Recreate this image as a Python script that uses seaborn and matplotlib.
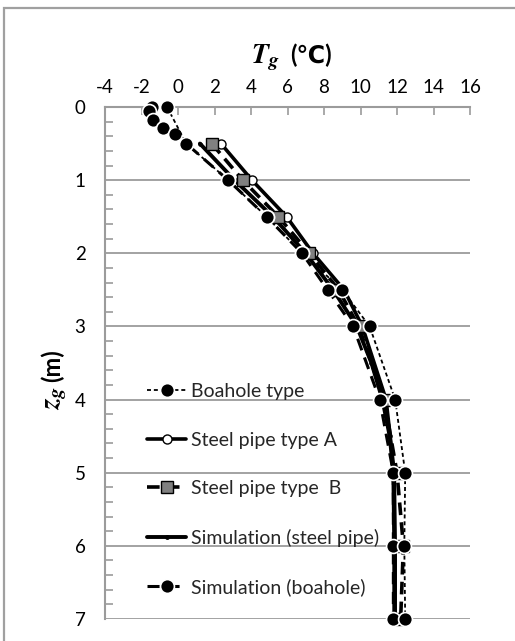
import matplotlib
matplotlib.use("Agg")
import matplotlib.pyplot as plt
from matplotlib.lines import Line2D
from matplotlib.patches import Rectangle
from matplotlib.ticker import MultipleLocator
import pandas as pd
import seaborn as sns

# Ground temperature profiles (T in degC, depth z in m)
bore_z = [0, 0.5, 1.0, 1.5, 2.0, 2.5, 3.0, 4.0, 5.0, 6.0, 7.0]
bore_T = [-0.6, 0.45, 2.75, 4.85, 6.8, 9.0, 10.5, 11.9, 12.45, 12.4, 12.45]

pipeA_z = [0.5, 1.0, 1.5, 2.0, 2.5, 3.0, 4.0, 5.0, 6.0, 7.0]
pipeA_T = [2.35, 4.05, 5.95, 7.4, 9.1, 10.1, 11.4, 11.85, 11.9, 11.9]

pipeB_z = [0.5, 1.0, 1.5, 2.0, 2.5, 3.0, 4.0, 5.0, 6.0, 7.0]
pipeB_T = [1.85, 3.55, 5.5, 7.2, 8.8, 9.9, 11.3, 12.0, 12.35, 12.2]

sim_pipe_z = [0.5, 1.0, 1.5, 2.0, 2.5, 3.0, 3.5, 4.0, 4.5, 5.0, 6.0, 7.0]
sim_pipe_T = [1.2, 3.1, 5.2, 7.0, 8.5, 9.8, 10.6, 11.2, 11.6, 11.8, 11.85, 11.85]

sim_bore_z = [0, 0.05, 0.18, 0.29, 0.37, 0.5, 1.0, 1.5, 2.0, 2.5, 3.0, 4.0, 5.0, 6.0, 7.0]
sim_bore_T = [-1.45, -1.6, -1.35, -0.8, -0.15, 0.45, 2.75, 4.85, 6.8, 8.2, 9.6, 11.05, 11.8, 11.8, 11.8]

labels = ["Boahole type", "Steel pipe type A", "Steel pipe type  B",
          "Simulation (steel pipe)", "Simulation (boahole)"]
x_ticks = [-4, -2, 0, 2, 4, 6, 8, 10, 12, 14, 16]
y_ticks = [0, 1, 2, 3, 4, 5, 6, 7]

sns.set_theme(style="white")
plt.rcParams["font.family"] = ["Lato", "DejaVu Sans"]
plt.rcParams["mathtext.fontset"] = "stix"
plt.rcParams["axes.unicode_minus"] = False

fig = plt.figure(figsize=(5.15, 6.41), dpi=100)
ax = fig.add_axes([105 / 515, 1 - 619 / 641, 365 / 515, 512 / 641])

grey = "#9b9b9b"

styles = [
    dict(linestyle=(0, (2.2, 1.6)), linewidth=1.3, marker="o", markersize=10,
         markerfacecolor="black", markeredgecolor="white", markeredgewidth=1.2, zorder=6),
    dict(linestyle="-", linewidth=2.6, marker="o", markersize=6.5,
         markerfacecolor="white", markeredgecolor="black", markeredgewidth=1.0, zorder=3),
    dict(linestyle=(0, (3.5, 2)), linewidth=2.6, marker="s", markersize=9,
         markerfacecolor="#808080", markeredgecolor="black", markeredgewidth=1.0, zorder=4),
    dict(linestyle="-", linewidth=2.8, marker="o", markersize=2.5,
         markerfacecolor="black", markeredgecolor="black", zorder=2),
    dict(linestyle=(0, (4, 2.5)), linewidth=2.2, marker="o", markersize=10,
         markerfacecolor="black", markeredgecolor="white", markeredgewidth=1.2, zorder=5),
]
series = [(bore_T, bore_z), (pipeA_T, pipeA_z), (pipeB_T, pipeB_z),
          (sim_pipe_T, sim_pipe_z), (sim_bore_T, sim_bore_z)]

for (T, z), st in zip(series, styles):
    df = pd.DataFrame({"T": T, "z": z})
    sns.lineplot(data=df, x="T", y="z", sort=False, estimator=None,
                 color="black", ax=ax, clip_on=False, **st)

ax.set_xlim(-4, 16)
ax.set_ylim(7, 0)
ax.xaxis.tick_top()
ax.set_xticks(x_ticks)
ax.set_yticks(y_ticks)
ax.yaxis.set_minor_locator(MultipleLocator(0.2))
ax.tick_params(axis="x", which="major", direction="in", length=6, width=1.2,
               color=grey, labelsize=13.5, pad=8, top=True, bottom=False)
ax.tick_params(axis="y", which="major", direction="in", length=0,
               labelsize=13.5, pad=14)
ax.tick_params(axis="y", which="minor", direction="in", length=6, width=1.2,
               color=grey, left=True)
for lab in ax.get_xticklabels() + ax.get_yticklabels():
    lab.set_color("black")
ax.set_xlabel("")
ax.set_ylabel("")

for s in ["right", "bottom"]:
    ax.spines[s].set_visible(False)
for s in ["top", "left"]:
    ax.spines[s].set_color(grey)
    ax.spines[s].set_linewidth(1.5)

ax.grid(False)
for yv in y_ticks[1:]:
    ax.axhline(yv, color=grey, linewidth=1.3, zorder=1)

# Axis titles: italic symbol with subscript, then the unit
ax.text(0.401, 1.085, r"$\mathbfit{T}_{\mathbfit{g}}$", transform=ax.transAxes,
        fontsize=20, ha="left", va="baseline", color="black")
ax.text(0.507, 1.085, "(℃)", transform=ax.transAxes, fontsize=17,
        fontweight="bold", ha="left", va="baseline", color="black")
ax.text(-0.145, 0.4629, "(m)", transform=ax.transAxes, fontsize=17,
        fontweight="bold", rotation=90, ha="center", va="bottom", color="black")
ax.text(-0.135, 0.455, r"$\mathbfit{z}_{\mathbfit{g}}$", transform=ax.transAxes,
        fontsize=20, rotation=90, ha="center", va="top", color="black")

handles = [Line2D([], [], color="black", **{k: v for k, v in st.items() if k != "zorder"})
           for st in styles]
leg = ax.legend(handles, labels, loc="upper left", bbox_to_anchor=(0.095, 0.476),
                frameon=False, fontsize=14, labelspacing=1.62, handlelength=2.0,
                handletextpad=0.25, borderaxespad=0)

fig.patches.append(Rectangle((4 / 515, -0.1), 1.2, 1.1 - 8 / 641,
                             transform=fig.transFigure, fill=False,
                             edgecolor="#a0a0a0", linewidth=1.6))

fig.savefig("out.png", dpi=100)
